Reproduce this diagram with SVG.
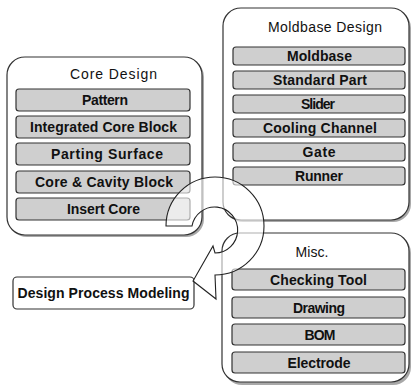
<svg xmlns="http://www.w3.org/2000/svg" width="414" height="387" viewBox="0 0 414 387">
<style>
.shadow{fill:#a8a8a8}
.cont{fill:#fff;stroke:#333;stroke-width:1.2}
.item{fill:#cfcfcf;stroke:#333;stroke-width:1.2}
.title{font-family:"Liberation Sans",Arial,sans-serif;font-size:14px;fill:#111;text-anchor:middle}
.lbl{font-family:"Liberation Sans",Arial,sans-serif;font-size:14px;font-weight:bold;fill:#111;text-anchor:middle}
.conn{fill:#fff;fill-opacity:0.6;stroke:#222;stroke-width:1.1}
</style>
<rect width="414" height="387" fill="#fff"/>
<g id="core-design">
<rect class="shadow" x="9" y="59" width="195" height="178" rx="18"/>
<rect class="cont" x="7" y="57" width="195" height="178" rx="18"/>
<text class="title" x="113.5" y="79" textLength="87" lengthAdjust="spacing">Core Design</text>
<g id="pattern"><rect class="item" x="16" y="89" width="174" height="22" rx="3"/><text class="lbl" x="105" y="105" textLength="46" lengthAdjust="spacing">Pattern</text></g>
<g id="integrated-core-block"><rect class="item" x="16" y="116" width="174" height="22" rx="3"/><text class="lbl" x="103.5" y="132" textLength="147" lengthAdjust="spacing">Integrated Core Block</text></g>
<g id="parting-surface"><rect class="item" x="16" y="143" width="174" height="22" rx="3"/><text class="lbl" x="107" y="159" textLength="112" lengthAdjust="spacing">Parting Surface</text></g>
<g id="core-cavity-block"><rect class="item" x="16" y="171" width="174" height="22" rx="3"/><text class="lbl" x="104" y="187" textLength="138" lengthAdjust="spacing">Core &amp; Cavity Block</text></g>
<g id="insert-core"><rect class="item" x="16" y="198" width="174" height="22" rx="3"/><text class="lbl" x="103.5" y="214" textLength="73" lengthAdjust="spacing">Insert Core</text></g>
</g>
<g id="moldbase-design">
<rect class="shadow" x="225" y="10" width="186" height="212" rx="18"/>
<rect class="cont" x="223" y="8" width="186" height="212" rx="18"/>
<text class="title" x="325" y="32" textLength="114" lengthAdjust="spacing">Moldbase Design</text>
<g id="moldbase"><rect class="item" x="233" y="47" width="172" height="18" rx="3"/><text class="lbl" x="319.5" y="61" textLength="65" lengthAdjust="spacing">Moldbase</text></g>
<g id="standard-part"><rect class="item" x="233" y="71" width="172" height="18" rx="3"/><text class="lbl" x="320" y="85" textLength="94" lengthAdjust="spacing">Standard Part</text></g>
<g id="slider"><rect class="item" x="233" y="95" width="172" height="18" rx="3"/><text class="lbl" x="318" y="109" textLength="34" lengthAdjust="spacing">Slider</text></g>
<g id="cooling-channel"><rect class="item" x="233" y="119" width="172" height="18" rx="3"/><text class="lbl" x="320" y="133" textLength="114" lengthAdjust="spacing">Cooling Channel</text></g>
<g id="gate"><rect class="item" x="233" y="143" width="172" height="18" rx="3"/><text class="lbl" x="319" y="157" textLength="33" lengthAdjust="spacing">Gate</text></g>
<g id="runner"><rect class="item" x="233" y="167" width="172" height="18" rx="3"/><text class="lbl" x="319" y="181" textLength="48" lengthAdjust="spacing">Runner</text></g>
</g>
<g id="misc">
<rect class="shadow" x="224" y="235" width="187" height="150" rx="18"/>
<rect class="cont" x="222" y="233" width="187" height="149" rx="18"/>
<text class="title" x="312" y="257" textLength="33" lengthAdjust="spacing">Misc.</text>
<g id="checking-tool"><rect class="item" x="232" y="269" width="173" height="21" rx="3"/><text class="lbl" x="318.5" y="284.5" textLength="97" lengthAdjust="spacing">Checking Tool</text></g>
<g id="drawing"><rect class="item" x="232" y="297" width="173" height="21" rx="3"/><text class="lbl" x="319" y="312.5" textLength="52" lengthAdjust="spacing">Drawing</text></g>
<g id="bom"><rect class="item" x="232" y="324" width="173" height="21" rx="3"/><text class="lbl" x="320" y="339.5" textLength="31" lengthAdjust="spacing">BOM</text></g>
<g id="electrode"><rect class="item" x="232" y="352" width="173" height="21" rx="3"/><text class="lbl" x="319" y="367.5" textLength="63" lengthAdjust="spacing">Electrode</text></g>
</g>
<g id="design-process-modeling">
<rect x="13" y="277" width="181" height="32" rx="4" fill="#fff" stroke="#333" stroke-width="1.2"/>
<text class="lbl" x="103.5" y="298" textLength="172" lengthAdjust="spacing">Design Process Modeling</text>
</g>
<g id="connectors">
<path class="conn" d="M166,226 A49,49 0 1 1 215,275 L216,299 L193,281 L213,246 L215,253 A23,23 0 1 0 192,226 Z"/>
</g>
</svg>
